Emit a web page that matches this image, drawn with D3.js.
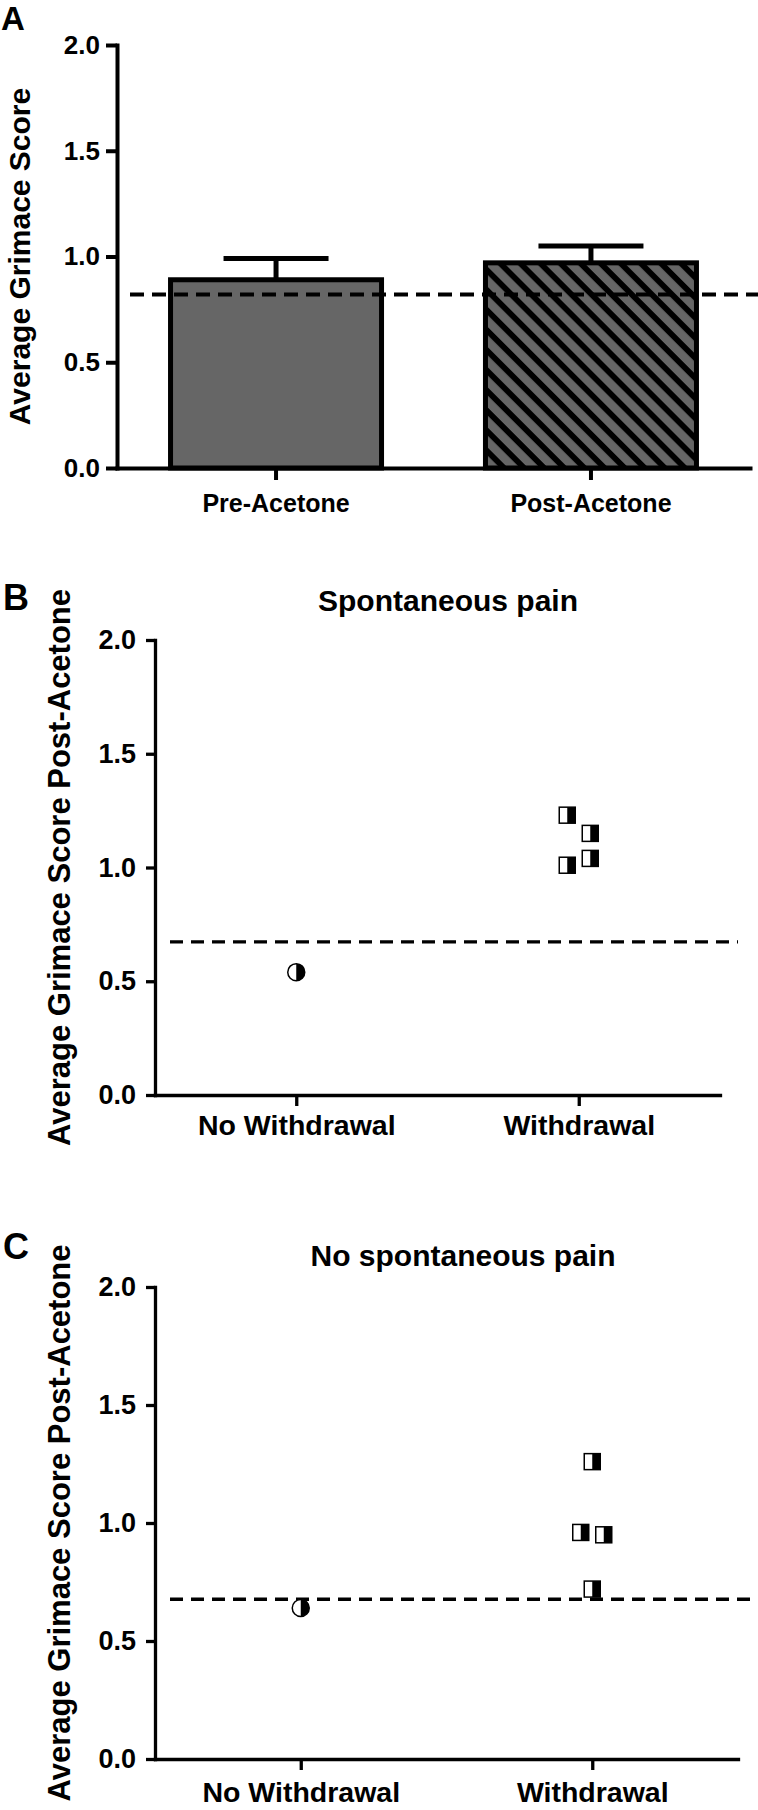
<!DOCTYPE html>
<html><head><meta charset="utf-8">
<script src="https://cdn.jsdelivr.net/npm/d3@7"></script>
<style>
body{margin:0;background:#fff}
svg{display:block}
text{font-family:"Liberation Sans",Arial,Helvetica,sans-serif;font-weight:bold;fill:#000}
</style>
</head><body><div id="chart"></div>
<script>
// ---------- data ----------
const yTickValues = [0, 0.5, 1.0, 1.5, 2.0];

const barCategories = ["Pre-Acetone", "Post-Acetone"];
const barMeans = [0.89, 0.97];
const barErrors = [0.10, 0.08];
const baselineA = 0.82;

const groupCategories = ["No Withdrawal", "Withdrawal"];
const spontNoWithdrawal = [0.54];
const spontWithdrawal = [1.23, 1.15, 1.01, 1.04];
const spontBaseline = 0.673;

const noSpontNoWithdrawal = [0.64];
const noSpontWithdrawal = [1.26, 0.96, 0.95, 0.72];
const noSpontBaseline = 0.677;

const panelLetters = ["A", "B", "C"];
const titleB = "Spontaneous pain";
const titleC = "No spontaneous pain";
const yTitleA = "Average Grimace Score";
const yTitleBC = "Average Grimace Score Post-Acetone";

// ---------- setup ----------
const W = 758, H = 1810;
const svg = d3.select("#chart").append("svg").attr("width", W).attr("height", H);
const defs = svg.append("defs");
const hatch = defs.append("pattern").attr("id", "hatch")
  .attr("patternUnits", "userSpaceOnUse")
  .attr("width", 14.2).attr("height", 14.2)
  .attr("patternTransform", "rotate(45)");
hatch.append("rect").attr("width", 14.2).attr("height", 14.2).attr("fill", "#666");
hatch.append("rect").attr("width", 14.2).attr("height", 5.8).attr("fill", "#000");

const fmt = d3.format(".1f");

function styleAxis(g, lw, fs) {
  g.select(".domain").attr("stroke", "#000").attr("stroke-width", lw).attr("stroke-linecap", "square");
  g.selectAll(".tick line").attr("stroke", "#000").attr("stroke-width", lw);
  g.selectAll(".tick text").attr("font-size", fs).attr("font-weight", "bold")
    .attr("font-family", '"Liberation Sans", Arial, sans-serif').attr("fill", "#000");
}

// ---------- Panel A ----------
const A = {left: 117, right: 750, top: 45, bottom: 468};
const yA = d3.scaleLinear().domain([0, 2]).range([A.bottom, A.top]);
const xA = d3.scaleBand().domain(barCategories).range([A.left, A.right])
  .paddingInner(0.33).paddingOuter(0.17);

const gA = svg.append("g");
const capHalf = 52.5;
barCategories.forEach((c, i) => {
  const cx = xA(c) + xA.bandwidth() / 2;
  gA.append("line").attr("x1", cx).attr("x2", cx)
    .attr("y1", yA(barMeans[i])).attr("y2", yA(barMeans[i] + barErrors[i]))
    .attr("stroke", "#000").attr("stroke-width", 5);
  gA.append("line").attr("x1", cx - capHalf).attr("x2", cx + capHalf)
    .attr("y1", yA(barMeans[i] + barErrors[i])).attr("y2", yA(barMeans[i] + barErrors[i]))
    .attr("stroke", "#000").attr("stroke-width", 5);
});
gA.selectAll("rect.bar").data(barCategories).join("rect").attr("class", "bar")
  .attr("x", d => xA(d)).attr("width", xA.bandwidth())
  .attr("y", (d, i) => yA(barMeans[i])).attr("height", (d, i) => yA(0) - yA(barMeans[i]))
  .attr("fill", (d, i) => i === 0 ? "#666" : "url(#hatch)")
  .attr("stroke", "#000").attr("stroke-width", 5);

const axAy = svg.append("g").attr("transform", `translate(${A.left},0)`)
  .call(d3.axisLeft(yA).tickValues(yTickValues).tickFormat(fmt).tickSize(11).tickSizeOuter(0).tickPadding(6));
styleAxis(axAy, 4, 26);
const axAx = svg.append("g").attr("transform", `translate(0,${A.bottom})`)
  .call(d3.axisBottom(xA).tickSize(12).tickSizeOuter(0).tickPadding(14));
styleAxis(axAx, 4, 25);

gA.append("line").attr("x1", A.left + 13).attr("x2", W)
  .attr("y1", yA(baselineA)).attr("y2", yA(baselineA))
  .attr("stroke", "#000").attr("stroke-width", 4).attr("stroke-dasharray", "14,8");

svg.append("text").attr("x", 1).attr("y", 30).attr("font-size", 33).text(panelLetters[0]);
svg.append("text").attr("transform", `translate(30,${(A.top + A.bottom) / 2}) rotate(-90)`)
  .attr("text-anchor", "middle").attr("font-size", 30).text(yTitleA);

// ---------- scatter panels ----------
function spreadOffsets(values, y, minGap, step) {
  const idx = values.map((v, i) => i).sort((a, b) => values[b] - values[a]);
  const clusters = [];
  let cur = [idx[0]];
  for (let k = 1; k < idx.length; k++) {
    if (Math.abs(y(values[idx[k]]) - y(values[idx[k - 1]])) < minGap) cur.push(idx[k]);
    else { clusters.push(cur); cur = [idx[k]]; }
  }
  clusters.push(cur);
  const off = values.map(() => 0);
  clusters.forEach(c => {
    if (c.length > 1) c.slice().sort((a, b) => a - b).forEach((i, j) => off[i] = (j % 2 === 0 ? -1 : 1) * step);
  });
  return off;
}

function scatterPanel(cfg) {
  const y = d3.scaleLinear().domain([0, 2]).range([cfg.bottom, cfg.top]);
  const x = d3.scalePoint().domain(groupCategories).range([cfg.left, cfg.right]).padding(0.5);
  const g = svg.append("g");

  const gy = svg.append("g").attr("transform", `translate(${cfg.left},0)`)
    .call(d3.axisLeft(y).tickValues(yTickValues).tickFormat(fmt).tickSize(9).tickSizeOuter(0).tickPadding(10));
  styleAxis(gy, 3.3, 27);
  const gx = svg.append("g").attr("transform", `translate(0,${cfg.bottom})`)
    .call(d3.axisBottom(x).tickSize(11).tickSizeOuter(0).tickPadding(cfg.xPad));
  styleAxis(gx, 3.3, 28.5);

  g.append("line").attr("x1", cfg.left + 15).attr("x2", cfg.dashEnd)
    .attr("y1", y(cfg.baseline)).attr("y2", y(cfg.baseline))
    .attr("stroke", "#000").attr("stroke-width", 3.3).attr("stroke-dasharray", "13,8");

  // circles (No Withdrawal)
  const r = 8.5;
  const cx0 = x(groupCategories[0]);
  const half = d3.arc().innerRadius(0).outerRadius(r).startAngle(0).endAngle(Math.PI);
  cfg.noW.forEach(v => {
    const cy = y(v);
    g.append("circle").attr("cx", cx0).attr("cy", cy).attr("r", r)
      .attr("fill", "#fff").attr("stroke", "#000").attr("stroke-width", 1.5);
    g.append("path").attr("d", half()).attr("transform", `translate(${cx0},${cy})`).attr("fill", "#000");
  });

  // squares (Withdrawal)
  const s = 16;
  const cx1 = x(groupCategories[1]);
  const offs = spreadOffsets(cfg.w, y, 35, 11.5);
  cfg.w.forEach((v, i) => {
    const cx = cx1 + offs[i], cy = y(v);
    g.append("rect").attr("x", cx - s / 2).attr("y", cy - s / 2).attr("width", s).attr("height", s)
      .attr("fill", "#fff").attr("stroke", "#000").attr("stroke-width", 1.5);
    g.append("rect").attr("x", cx).attr("y", cy - s / 2).attr("width", s / 2).attr("height", s)
      .attr("fill", "#000");
  });

  svg.append("text").attr("x", cfg.titleX).attr("y", cfg.titleY).attr("text-anchor", "middle")
    .attr("font-size", 30).text(cfg.title);
  svg.append("text").attr("x", 3).attr("y", cfg.letterY).attr("font-size", 36).text(cfg.letter);
  svg.append("text").attr("transform", `translate(70,${(cfg.top + cfg.bottom) / 2}) rotate(-90)`)
    .attr("text-anchor", "middle").attr("font-size", 31).text(yTitleBC);
}

scatterPanel({left: 155, right: 720, top: 640, bottom: 1095, xPad: 8.5, dashEnd: 738,
  baseline: spontBaseline, noW: spontNoWithdrawal, w: spontWithdrawal,
  title: titleB, titleX: 448, titleY: 611, letter: panelLetters[1], letterY: 610});

scatterPanel({left: 155, right: 738, top: 1287, bottom: 1759, xPad: 12, dashEnd: 757,
  baseline: noSpontBaseline, noW: noSpontNoWithdrawal, w: noSpontWithdrawal,
  title: titleC, titleX: 463, titleY: 1266, letter: panelLetters[2], letterY: 1259});
</script>
</body></html>
